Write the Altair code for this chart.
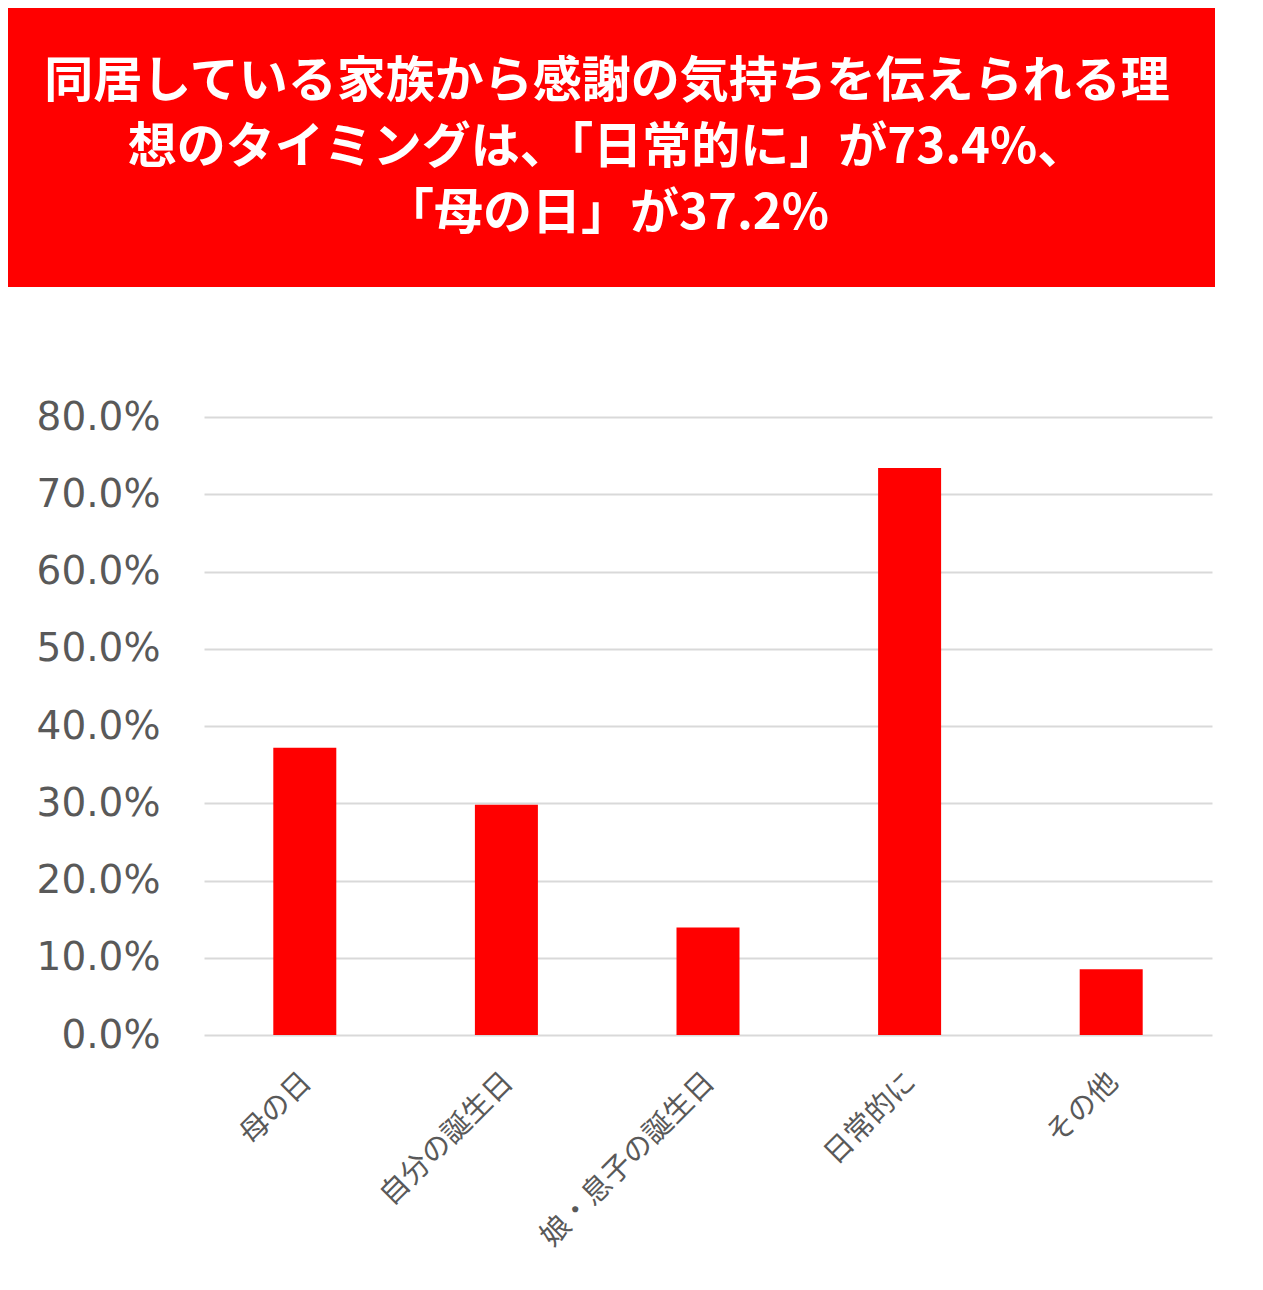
import altair as alt
import pandas as pd

categories = ["母の日", "自分の誕生日", "娘・息子の誕生日", "日常的に", "その他"]
values = [0.372, 0.298, 0.139, 0.734, 0.085]
y_ticks = [0.0, 0.1, 0.2, 0.3, 0.4, 0.5, 0.6, 0.7, 0.8]
title_lines = [
    "同居している家族から感謝の気持ちを伝えられる理",
    "想のタイミングは、「日常的に」が73.4%、",
    "「母の日」が37.2%",
]

RED = "#FF0000"
GRAY = "#595959"
W, H = 1008, 618

df = pd.DataFrame({"cat": categories, "val": values})

bars = alt.Chart(df).mark_bar(color=RED, size=63).encode(
    x=alt.X(
        "cat:N",
        sort=categories,
        scale=alt.Scale(paddingInner=0, paddingOuter=0),
        axis=alt.Axis(
            title=None,
            labelAngle=-45,
            labelFont="Noto Sans CJK JP",
            labelFontSize=29,
            labelColor=GRAY,
            labelPadding=32,
            labelOffset=-8,
            labelLimit=0,
            domain=False,
            ticks=False,
            grid=False,
        ),
    ),
    y=alt.Y(
        "val:Q",
        scale=alt.Scale(domain=[0, 0.8]),
        axis=alt.Axis(
            title=None,
            values=y_ticks,
            format=".1%",
            labelFont="DejaVu Sans",
            labelFontSize=39,
            labelColor=GRAY,
            labelPadding=44,
            domain=False,
            ticks=False,
            grid=True,
            gridColor="#d9d9d9",
            gridWidth=2,
        ),
    ),
)

one = pd.DataFrame({"k": [0]})

banner = alt.Chart(one).mark_rect(color=RED).encode(
    x=alt.value(-196), x2=alt.value(1011),
    y=alt.value(-409), y2=alt.value(-130),
)

title = alt.Chart(one).mark_text(
    font="Noto Sans CJK JP",
    fontWeight="bold",
    fontSize=49,
    color="white",
    align="center",
    baseline="middle",
    lineHeight=66,
).encode(
    x=alt.value(403), y=alt.value(-335), text=alt.value(title_lines)
)

chart = alt.layer(banner, title, bars).properties(
    width=W, height=H, padding=0, background="white"
).configure_view(stroke=None)

chart.save("out.html", embed_options={"renderer": "svg", "actions": False})
